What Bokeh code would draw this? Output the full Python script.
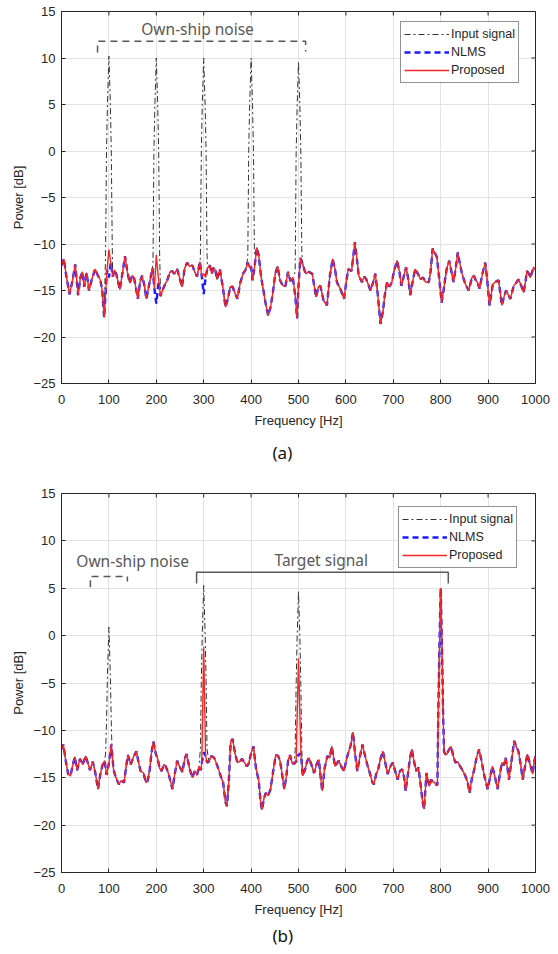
from bokeh.plotting import figure
from bokeh.models import Range1d, FixedTicker, Legend, LegendItem, Label, Title
from bokeh.layouts import column
from bokeh.embed import file_html
from bokeh.resources import INLINE

# ---------------- data: panel (a) ----------------
freq_a = [0, 5, 10, 17, 23, 29, 35, 40, 44, 48, 53, 58, 64, 71, 76, 82, 86, 90, 94, 96,
          104, 108, 112, 116, 123, 129, 134, 139, 144, 149, 153, 161, 166, 170, 175, 179, 186, 192, 196,
          205, 209, 213, 217, 223, 229, 233, 238, 244, 249, 254, 260, 265, 270, 276, 281, 286, 292, 296,
          304, 308, 313, 317, 321, 325, 328, 334, 340, 346, 351, 356, 361, 366, 371, 377, 383, 388, 393, 397,
          403, 407, 412, 416, 421, 426, 431, 436, 441, 446, 451, 456, 461, 466, 472, 478, 483, 488, 493, 497,
          504, 509, 515, 522, 529, 537, 542, 546, 553, 560, 566, 572, 577, 581, 588, 596, 601, 605, 612, 619,
          623, 627, 634, 639, 643, 652, 657, 662, 667, 673, 678, 682, 687, 692, 697, 702, 708, 713, 717, 722,
          727, 731, 736, 741, 746, 752, 757, 763, 768, 775, 779, 783, 788, 792, 797, 802, 806, 809, 813, 818,
          822, 827, 832, 836, 840, 845, 852, 859, 866, 870, 873, 878, 882, 888, 894, 898, 903, 907, 910, 915,
          918, 922, 925, 929, 934, 938, 943, 947, 954, 959, 964, 970, 975, 979, 982, 986, 989, 993, 996, 1000]
noise_a = [-12.3, -11.6, -13.4, -15.4, -14.0, -12.2, -15.5, -13.6, -13.0, -14.6, -13.1, -15.0, -13.8, -12.7, -13.3, -13.9, -15.0, -17.9, -14.5, -12.8,
           -12.0, -13.5, -12.8, -13.3, -14.9, -13.0, -11.3, -13.0, -14.2, -13.4, -13.6, -15.9, -14.0, -13.4, -14.5, -15.9, -14.1, -12.6, -14.8,
           -14.0, -15.6, -15.0, -14.5, -13.9, -13.0, -12.9, -13.2, -12.7, -13.6, -14.6, -12.6, -12.0, -12.4, -12.3, -13.0, -13.5, -11.9, -13.5,
           -13.6, -12.6, -12.3, -13.2, -12.5, -12.9, -13.8, -12.7, -14.5, -16.8, -15.9, -14.6, -14.6, -15.3, -15.9, -14.2, -13.2, -12.8, -12.0, -12.6,
           -13.9, -12.6, -10.4, -11.2, -13.5, -15.0, -16.5, -17.7, -16.8, -15.2, -13.2, -12.4, -13.9, -14.4, -14.6, -13.0, -14.0, -13.6, -15.5, -18.0,
           -11.5, -12.2, -13.2, -13.0, -13.2, -15.7, -14.6, -14.5, -16.1, -16.6, -13.5, -11.6, -12.7, -14.1, -14.8, -15.9, -14.0, -12.7, -12.9, -9.8,
           -11.5, -13.4, -14.1, -13.5, -13.8, -15.0, -14.2, -13.2, -15.3, -18.6, -17.3, -15.5, -14.1, -14.6, -14.1, -12.8, -11.8, -13.0, -14.5, -13.5,
           -12.5, -13.6, -15.5, -14.0, -12.7, -13.2, -13.8, -13.6, -14.1, -14.1, -12.8, -10.5, -11.0, -11.4, -13.8, -16.3, -15.0, -13.9, -12.6, -11.8,
           -12.8, -14.1, -12.5, -10.9, -12.0, -13.2, -14.3, -15.0, -13.6, -13.4, -13.8, -14.2, -14.8, -13.2, -12.0, -13.8, -16.6, -15.3, -14.3, -14.1,
           -14.0, -13.9, -15.0, -16.6, -15.6, -15.0, -15.5, -15.9, -14.5, -14.2, -13.8, -14.5, -15.2, -14.0, -12.9, -13.2, -13.6, -13.0, -12.5, -12.7]
tone_freq_a = [100, 200, 300, 400, 500]
nlms_tone_a = [-13.6, -16.4, -15.4, -12.4, -14.5]
prop_tone_a = [-10.6, -11.2, -13.2, -12.4, -14.5]
# input-signal spectral lines (own-ship noise)
input_peak_f_a = [93, 95, 97, 100, 103, 105, 107,
                  193, 195, 197, 200, 203, 205, 207,
                  293, 295, 297, 300, 303, 305, 307,
                  393, 395, 397, 400, 403, 405, 407,
                  493, 495, 497, 500, 503, 505, 507]
input_peak_v_a = [-11.0, 0.2, 5.2, 10.2, 5.2, 0.2, -10.0,
                  -12.0, 0.0, 5.0, 10.0, 5.0, 0.0, -11.0,
                  -11.5, 0.0, 5.0, 10.0, 5.0, 0.0, -11.0,
                  -11.5, 0.0, 5.0, 10.0, 5.0, 0.0, -11.0,
                  -13.0, -0.4, 4.6, 9.6, 4.6, -0.4, -11.0]

# ---------------- data: panel (b) ----------------
freq_b = [0, 4, 9, 14, 19, 24, 28, 33, 39, 45, 51, 56, 60, 66, 71, 77, 82, 87, 91, 95,
          105, 110, 115, 121, 126, 132, 136, 140, 146, 152, 158, 163, 167, 173, 178, 182, 186, 190, 194, 199,
          203, 207, 211, 216, 220, 226, 230, 234, 239, 244, 249, 255, 260, 264, 270, 276, 281, 286, 290, 294, 296,
          304, 307, 311, 316, 322, 327, 332, 337, 341, 346, 349, 353, 357, 361, 366, 371, 376, 381, 386, 391, 395,
          400, 405, 410, 416, 420, 423, 427, 431, 436, 441, 446, 452, 457, 461, 466, 470, 474, 478, 482, 487, 491, 495,
          505, 509, 514, 518, 522, 527, 533, 538, 543, 546, 550, 555, 561, 566, 570, 574, 577, 581, 585, 590, 596,
          601, 606, 610, 615, 619, 624, 629, 635, 640, 645, 651, 656, 659, 664, 668, 673, 678, 683, 688, 694, 699,
          704, 709, 714, 719, 723, 726, 732, 735, 739, 744, 748, 753, 757, 762, 765, 768, 770, 773, 776, 780, 783,
          787, 790, 793, 795, 797, 800, 803, 805, 807, 810, 813, 818, 822, 827, 831, 836, 841, 846, 852, 857, 861, 866, 870, 876, 881, 886,
          892, 899, 904, 909, 914, 920, 925, 929, 933, 937, 941, 944, 950, 955, 960, 964, 969, 973, 978, 983, 988,
          994, 997, 1000]
noise_b = [-12.0, -11.5, -13.2, -14.6, -14.8, -13.6, -12.8, -14.2, -13.0, -13.6, -12.7, -13.5, -14.2, -13.3, -14.4, -16.2, -14.6, -13.6, -13.2, -14.7,
           -11.5, -14.2, -15.0, -15.7, -15.3, -15.5, -14.0, -12.6, -13.6, -12.8, -12.2, -13.5, -14.3, -14.5, -15.5, -15.3, -14.2, -12.3, -11.2, -12.5,
           -13.0, -14.0, -14.3, -13.6, -13.8, -14.6, -15.4, -16.2, -14.6, -13.2, -13.8, -14.4, -13.0, -12.5, -14.0, -15.0, -14.3, -14.7, -13.8, -14.2, -13.4,
           -12.7, -13.4, -13.3, -12.7, -12.9, -13.5, -14.2, -15.0, -15.5, -17.6, -18.0, -15.4, -11.2, -10.9, -12.4, -13.4, -13.3, -13.0, -13.4, -13.8, -13.5,
           -12.4, -11.7, -13.9, -15.3, -17.5, -18.4, -17.2, -16.6, -16.9, -16.2, -14.5, -12.6, -12.7, -13.2, -14.8, -16.2, -15.0, -13.2, -12.6, -13.5, -13.5, -13.3,
           -12.4, -14.8, -14.1, -13.3, -12.9, -13.6, -14.5, -13.6, -13.1, -14.6, -16.4, -14.0, -12.7, -12.9, -11.7, -12.8, -13.8, -13.5, -13.2, -13.8, -14.3,
           -13.1, -12.2, -11.6, -10.2, -12.3, -14.3, -12.9, -11.5, -12.6, -13.6, -14.6, -15.5, -15.7, -14.6, -14.1, -13.0, -12.2, -13.4, -14.6, -13.8, -13.4,
           -14.3, -15.2, -14.3, -14.1, -15.0, -16.4, -14.2, -13.0, -12.0, -13.3, -14.3, -13.9, -15.5, -17.6, -18.3, -16.0, -14.5, -15.2, -15.9, -15.2, -15.4,
           -15.5, -15.7, -15.8, -8.0, -2.0, 5.0, -2.0, -8.0, -12.2, -12.6, -12.5, -12.0, -11.7, -12.8, -13.4, -13.3, -13.8, -14.2, -14.8, -15.5, -16.6, -15.0, -14.3, -12.8, -12.0, -13.2,
           -14.8, -16.2, -15.0, -13.8, -14.8, -16.2, -14.6, -13.4, -13.7, -12.9, -14.0, -15.2, -13.0, -11.1, -11.8, -12.2, -13.7, -15.2, -13.8, -12.5, -13.5,
           -14.6, -13.4, -12.7]
tone_freq_b = [100, 300, 500]
nlms_tone_b = [-13.5, -12.3, -12.6]
prop_tone_b = [-13.5, -1.2, -2.4]
input_peak_f_b = [93, 95, 97, 100, 103, 105, 107,
                  293, 295, 297, 300, 303, 305, 307,
                  493, 495, 497, 500, 503, 505, 507]
input_peak_v_b = [-12.5, -9.1, -4.1, 0.9, -4.1, -9.1, -13.0,
                  -12.0, -4.7, 0.3, 5.3, 0.3, -4.7, -12.0,
                  -12.0, -5.3, -0.3, 4.7, -0.3, -5.3, -12.0]

x_ticks = list(range(0, 1001, 100))
y_ticks = list(range(-25, 16, 5))
series_names = ["Input signal", "NLMS", "Proposed"]

# annotation geometry (data units)
brk_a_x = [76, 76, 515, 515]
brk_a_y = [10.6, 11.8, 11.8, 10.7]
own_b_x = [61, 61, 139, 139]
own_b_y = [5.1, 6.25, 6.25, 5.7]
tgt_b_x = [285, 285, 816, 816]
tgt_b_y = [5.5, 6.7, 6.7, 5.5]

FONT = "Liberation Sans"
ANN_FONT = "Noto Sans"
TXT = "#262626"
ANN = "#595959"
FRAME_W = 474
TICK_PX = 4


def merged(base_f, base_v, tf, tv):
    pts = sorted(list(zip(base_f, base_v)) + list(zip(tf, tv)))
    return [q[0] for q in pts], [q[1] for q in pts]


def with_peaks(base_f, base_v, pf, pv):
    # replace base points lying inside each 7-point peak window by the peak points
    spans = [(pf[i], pf[i + 6]) for i in range(0, len(pf), 7)]
    keep = [(f, v) for f, v in zip(base_f, base_v)
            if not any(lo <= f <= hi for lo, hi in spans)]
    pts = sorted(keep + list(zip(pf, pv)))
    return [q[0] for q in pts], [q[1] for q in pts]


def make_panel(base_f, base_v, tf, tnl, tpr, pf, pv, frame_h, top, bottom, caption,
               cap_standoff, legend_loc):
    p = figure(frame_width=FRAME_W, frame_height=frame_h,
               x_range=Range1d(0, 1000), y_range=Range1d(-25, 15),
               output_backend="svg", toolbar_location=None,
               min_border_left=61, min_border_right=15,
               min_border_top=top, min_border_bottom=bottom)
    p.background_fill_color = "white"
    p.border_fill_color = "white"
    p.outline_line_color = TXT
    p.outline_line_width = 1

    for ax, tk in ((p.xaxis[0], x_ticks), (p.yaxis[0], y_ticks)):
        ax.ticker = FixedTicker(ticks=tk)
        ax.major_tick_in = TICK_PX
        ax.major_tick_out = 0
        ax.minor_tick_line_color = None
        ax.axis_line_color = TXT
        ax.major_tick_line_color = TXT
        ax.major_label_text_font = FONT
        ax.major_label_text_font_size = "13px"
        ax.major_label_text_color = TXT
        ax.axis_label_text_font = FONT
        ax.axis_label_text_font_size = "13px"
        ax.axis_label_text_font_style = "normal"
        ax.axis_label_text_color = TXT
    p.xaxis.axis_label = "Frequency [Hz]"
    p.yaxis.axis_label = "Power [dB]"
    p.xaxis.major_label_standoff = 11
    p.xaxis.axis_label_standoff = 6
    p.yaxis.major_label_standoff = 6
    p.yaxis.axis_label_standoff = 4

    p.xgrid.ticker = FixedTicker(ticks=x_ticks)
    p.ygrid.ticker = FixedTicker(ticks=y_ticks)
    p.xgrid.grid_line_color = "#e3e3e3"
    p.ygrid.grid_line_color = "#e3e3e3"

    # mirrored inward ticks on the top and right edges (MATLAB box)
    dy = TICK_PX * 40.0 / frame_h
    dx = TICK_PX * 1000.0 / FRAME_W
    p.segment(x0=x_ticks, y0=[15] * len(x_ticks), x1=x_ticks, y1=[15 - dy] * len(x_ticks),
              line_color=TXT, line_width=1)
    p.segment(x0=[1000] * len(y_ticks), y0=y_ticks, x1=[1000 - dx] * len(y_ticks), y1=y_ticks,
              line_color=TXT, line_width=1)

    fx_in, v_in = with_peaks(base_f, base_v, pf, pv)
    fx_nl, v_nl = merged(base_f, base_v, tf, tnl)
    fx_pr, v_pr = merged(base_f, base_v, tf, tpr)
    r_in = p.line(fx_in, v_in, line_color="#333333", line_width=1, line_dash="6 3 2 3")
    r_nl = p.line(fx_nl, v_nl, line_color="#1a1aff", line_width=2.4, line_dash="6 4")
    r_pr = p.line(fx_pr, v_pr, line_color="#f02828", line_width=1.4)

    legend = Legend(items=[LegendItem(label=series_names[0], renderers=[r_in]),
                           LegendItem(label=series_names[1], renderers=[r_nl]),
                           LegendItem(label=series_names[2], renderers=[r_pr])],
                    location=legend_loc)
    legend.border_line_color = TXT
    legend.border_line_width = 1
    legend.background_fill_alpha = 1
    legend.label_text_font = FONT
    legend.label_text_font_size = "12.5px"
    legend.label_text_color = TXT
    legend.glyph_width = 45
    legend.glyph_height = 18
    legend.label_height = 18
    legend.label_standoff = 2
    legend.spacing = 0
    legend.padding = 3
    legend.margin = 0
    p.add_layout(legend)

    p.add_layout(Title(text=caption, align="left", offset=211, standoff=cap_standoff,
                       text_font=ANN_FONT, text_font_size="17px",
                       text_font_style="normal", text_color="#111111"), "below")
    return p


pa = make_panel(freq_a, noise_a, tone_freq_a, nlms_tone_a, prop_tone_a,
                input_peak_f_a, input_peak_v_a, 372, 11, 90, "(a)", 16, (339, 300))
pa.line(brk_a_x, brk_a_y, line_color=ANN, line_width=1.5, line_dash="7 5")
pa.add_layout(Label(x=287, y=13.1, text="Own-ship noise", text_align="center",
                    text_baseline="middle", text_font=ANN_FONT, text_font_size="15.5px",
                    text_color=ANN))

pb = make_panel(freq_b, noise_b, tone_freq_b, nlms_tone_b, prop_tone_b,
                input_peak_f_b, input_peak_v_b, 379, 20, 73, "(b)", 4, (337, 304))
pb.line(own_b_x, own_b_y, line_color=ANN, line_width=1.5, line_dash="7 5")
pb.line(tgt_b_x, tgt_b_y, line_color=ANN, line_width=1.5)
pb.add_layout(Label(x=150, y=7.9, text="Own-ship noise", text_align="center",
                    text_baseline="middle", text_font=ANN_FONT, text_font_size="15.5px",
                    text_color=ANN))
pb.add_layout(Label(x=548, y=8.0, text="Target signal", text_align="center",
                    text_baseline="middle", text_font=ANN_FONT, text_font_size="15.5px",
                    text_color=ANN))

layout = column(pa, pb, spacing=0)
open("out.html", "w").write(file_html(layout, INLINE))
